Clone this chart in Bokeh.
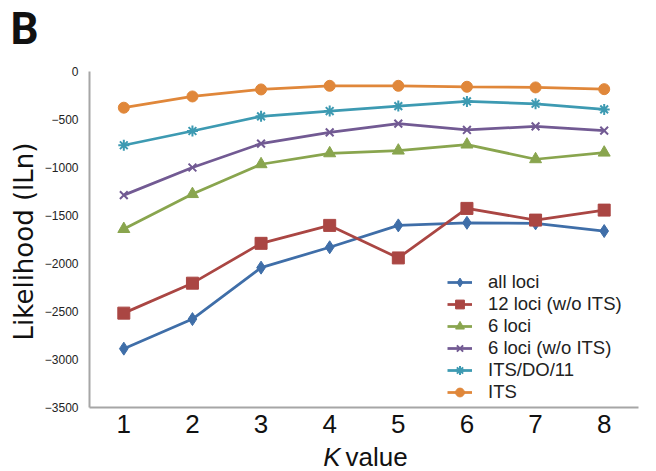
from bokeh.plotting import figure
from bokeh.models import FixedTicker, Label, Legend, Range1d
from bokeh.embed import file_html
from bokeh.resources import INLINE
import math

# ---- data ----
k_values = [1, 2, 3, 4, 5, 6, 7, 8]
x_tick_labels = ["1", "2", "3", "4", "5", "6", "7", "8"]
y_ticks = [0, -500, -1000, -1500, -2000, -2500, -3000, -3500]

all_loci = [-2887, -2579, -2043, -1831, -1603, -1576, -1582, -1662]
loci12_wo_its = [-2517, -2205, -1790, -1603, -1942, -1426, -1548, -1444]
loci6 = [-1641, -1277, -966, -852, -824, -761, -914, -845]
loci6_wo_its = [-1288, -1000, -751, -634, -543, -609, -571, -616]
its_do_11 = [-768, -620, -467, -412, -360, -312, -336, -395]
its = [-377, -260, -187, -149, -149, -159, -166, -184]

series_names = ["all loci", "12 loci (w/o ITS)", "6 loci", "6 loci (w/o ITS)", "ITS/DO/11", "ITS"]
series_values = [all_loci, loci12_wo_its, loci6, loci6_wo_its, its_do_11, its]
series_colors = ["#3F6EA8", "#AA4643", "#89A54E", "#725A93", "#3D9AB2", "#E0873A"]
series_markers = ["diamond", "square", "triangle", "x", "asterisk", "circle"]
series_sizes = [13, 12, 12, 11, 11, 11]

FONT = "Liberation Sans"

W, H = 656, 471
# pixel layout of the plotting area within the canvas
X_LEFT_PX, X_RIGHT_PX = 89, 638
Y_TOP_PX, Y_BOTTOM_PX = 71, 407
X_MIN, X_MAX = 0.5, 8.5
Y_MIN, Y_MAX = -3500, 0
sx = (X_RIGHT_PX - X_LEFT_PX) / (X_MAX - X_MIN)
sy = (Y_BOTTOM_PX - Y_TOP_PX) / (Y_MAX - Y_MIN)
xr = Range1d(X_MIN - X_LEFT_PX / sx, X_MAX + (W - X_RIGHT_PX) / sx)
yr = Range1d(Y_MIN - (H - Y_BOTTOM_PX) / sy, Y_MAX + Y_TOP_PX / sy)


def px_x(px):
    return X_MIN + (px - X_LEFT_PX) / sx


def px_y(py):
    return Y_MAX - (py - Y_TOP_PX) / sy


p = figure(width=W, height=H, output_backend="svg", toolbar_location=None,
           x_range=xr, y_range=yr,
           min_border_left=0, min_border_right=0, min_border_top=0, min_border_bottom=0)
p.outline_line_color = None
p.xgrid.visible = False
p.ygrid.visible = False
p.background_fill_color = "white"
p.border_fill_color = "white"

# axes (drawn at fixed data positions)
p.xaxis.fixed_location = Y_MIN
p.yaxis.fixed_location = X_MIN
p.xaxis.bounds = (X_MIN, X_MAX)
p.yaxis.bounds = (Y_MIN, Y_MAX)
p.xaxis.ticker = FixedTicker(ticks=k_values)
p.xaxis.major_label_overrides = {k: s for k, s in zip(k_values, x_tick_labels)}
p.yaxis.ticker = FixedTicker(ticks=y_ticks)
for ax in (p.xaxis[0], p.yaxis[0]):
    ax.axis_line_color = "#A6A6A6"
    ax.axis_line_width = 2
    ax.major_tick_line_color = None
    ax.minor_tick_line_color = None
    ax.major_tick_out = 0
    ax.major_tick_in = 0
    ax.major_label_text_font = FONT
p.xaxis.major_label_text_font_size = "26px"
p.xaxis.major_label_text_color = "#111111"
p.xaxis.major_label_standoff = 7
p.yaxis.major_label_text_font_size = "12px"
p.yaxis.major_label_text_color = "#222222"
p.yaxis.major_label_standoff = 11

legend_items = []
for name, vals, col, mk, sz in zip(series_names, series_values, series_colors, series_markers, series_sizes):
    r1 = p.line(k_values, vals, line_color=col, line_width=2.75)
    r2 = p.scatter(k_values, vals, marker=mk, size=sz, fill_color=col, line_color=col,
                   line_width=2 if mk in ("x", "asterisk") else 1)
    legend_items.append((name, [r1, r2]))

legend = Legend(items=legend_items, location=(447, 68), padding=0, margin=0,
                spacing=0, glyph_width=25, glyph_height=22, label_height=22,
                label_standoff=16, label_text_font=FONT, label_text_font_size="18.5px",
                label_text_color="#222222", border_line_color=None,
                background_fill_alpha=0)
p.add_layout(legend, "center")

# titles / labels
p.add_layout(Label(x=px_x(23), y=px_y(241), text="Likelihood (lLn)", angle=math.pi / 2,
                   text_align="center", text_baseline="middle",
                   text_font="DejaVu Sans", text_font_size="26px", text_color="#111111"))
p.add_layout(Label(x=px_x(340), y=px_y(456), text="K", text_align="right", text_baseline="middle",
                   text_font=FONT, text_font_style="italic", text_font_size="26px",
                   text_color="#111111"))
p.add_layout(Label(x=px_x(345), y=px_y(456), text="value", text_align="left", text_baseline="middle",
                   text_font=FONT, text_font_size="26px", text_color="#111111"))
p.add_layout(Label(x=px_x(10), y=px_y(28), text="B", text_align="left", text_baseline="middle",
                   text_font="Roboto", text_font_style="bold", text_font_size="44px",
                   text_color="#111111"))

open("out.html", "w").write(file_html(p, INLINE))
